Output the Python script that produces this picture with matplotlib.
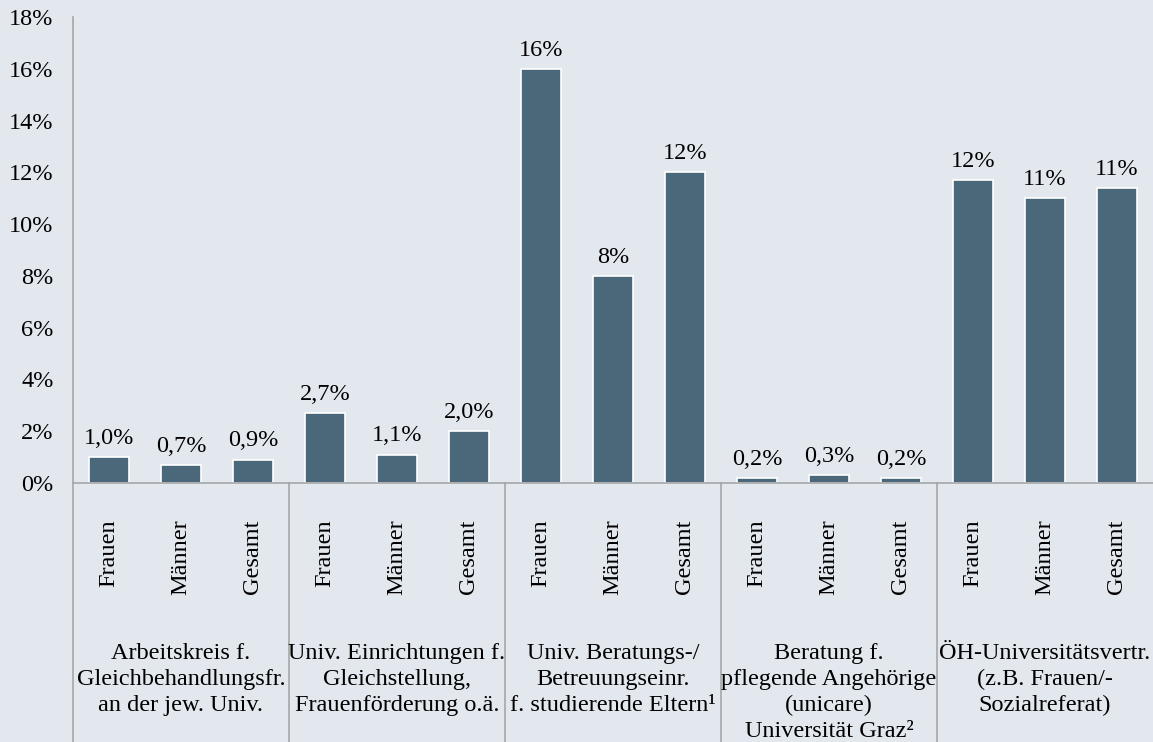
import numpy as np
import matplotlib.pyplot as plt
from matplotlib.transforms import blended_transform_factory

plt.rcParams['font.family'] = ['Liberation Serif', 'DejaVu Serif']

# Anteile je Einrichtung (Frauen, Männer, Gesamt) in %
gruppen = [
    "Arbeitskreis f.\nGleichbehandlungsfr.\nan der jew. Univ.",
    "Univ. Einrichtungen f.\nGleichstellung,\nFrauenförderung o.ä.",
    "Univ. Beratungs-/\nBetreuungseinr.\nf. studierende Eltern\u00b9",
    "Beratung f.\npflegende Angehörige\n(unicare)\nUniversität Graz\u00b2",
    "ÖH-Universitätsvertr.\n(z.B. Frauen/-\nSozialreferat)",
]
geschlecht = ["Frauen", "Männer", "Gesamt"]
werte = [1.0, 0.7, 0.9,
         2.7, 1.1, 2.0,
         16.0, 8.0, 12.0,
         0.2, 0.3, 0.2,
         11.7, 11.0, 11.4]
yticks = [0, 2, 4, 6, 8, 10, 12, 14, 16, 18]

bg = '#e3e8ef'
barcol = '#4b687b'
linecol = '#a6a6a6'
fs = 17.5

fig = plt.figure(figsize=(11.53, 7.42), dpi=100, facecolor=bg)
ax = fig.add_axes([0.0633, 0.349, 0.9367, 0.628], facecolor=bg)

x = np.arange(len(werte))
bars = ax.bar(x, werte, width=0.56, color=barcol, edgecolor='white', linewidth=1.2, zorder=2)

def fmt(v):
    s = f"{v:.0f}%" if v >= 5 else f"{v:.1f}%"
    return s.replace('.', ',')

for b, v in zip(bars, werte):
    ax.annotate(fmt(v), (b.get_x() + b.get_width() / 2, v), xytext=(0, 6),
                textcoords='offset points', ha='center', va='bottom', fontsize=fs)

ax.set_xlim(-0.5, len(werte) - 0.5)
ax.set_ylim(0, 18)
ax.set_yticks(yticks)
ax.set_yticklabels([f"{t}%" for t in yticks], fontsize=fs)
ax.set_xticks(x)
ax.set_xticklabels(geschlecht * len(gruppen), rotation=90, fontsize=fs)
ax.tick_params(axis='both', length=0)
ax.tick_params(axis='x', pad=26)
ax.tick_params(axis='y', pad=14)

for s in ['top', 'right']:
    ax.spines[s].set_visible(False)
for s in ['left', 'bottom']:
    ax.spines[s].set_color(linecol)
    ax.spines[s].set_linewidth(1.2)

# Trennlinien zwischen den Gruppen bis zum unteren Rand
trans = blended_transform_factory(ax.transData, ax.transAxes)
for g in range(len(gruppen)):
    ax.plot([g * 3 - 0.5, g * 3 - 0.5], [0, -0.6], color=linecol, lw=1.2,
            transform=trans, clip_on=False)
    ax.text(g * 3 + 1, -0.343, gruppen[g], transform=trans, ha='center', va='top',
            fontsize=fs, linespacing=1.32)

fig.savefig('out.png', dpi=100, facecolor=bg)
